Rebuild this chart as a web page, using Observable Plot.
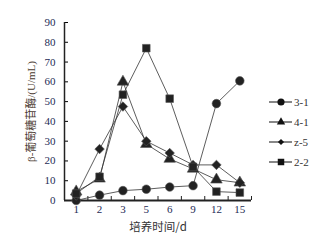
<!DOCTYPE html>
<html><head><meta charset="utf-8">
<script src="https://cdn.jsdelivr.net/npm/d3@7"></script>
<script src="https://cdn.jsdelivr.net/npm/@observablehq/plot@0.6"></script>
<style>
body{margin:0;background:#fff;}
#wrap{position:relative;width:321px;height:242px;}
#legend{position:absolute;left:0;top:0;}
</style></head>
<body><div id="wrap"></div>
<script>
const days = ["1","2","3","5","6","9","12","15"];
const seriesNames = ["3-1","4-1","z-5","2-2"];
const symbols = ["circle","triangle","diamond2","square"];
const s31 = [0, 2.7, 5, 5.7, 6.8, 7.5, 49, 60.5];
const s41 = [4.5, 11, 60, 28.5, 21, 16, 10.5, 9];
const sz5 = [2.5, 26, 47.5, 30, 24, 18, 18, 9];
const s22 = [3.5, 12, 53.5, 77, 51.5, 17, 4.5, 4];
const yTicks = [0,10,20,30,40,50,60,70,80,90];
const xLabel = "培养时间/d";
const yLabel = "β-葡萄糖苷酶/(U/mL)";

const allSeries = [s31, s41, sz5, s22];
const data = [];
allSeries.forEach((vals, si) => vals.forEach((v, i) => data.push({series: seriesNames[si], i, day: days[i], v})));
const bounds = d3.range(days.length + 1).map(k => k - 0.5);

const ink = "#222";
const tickCol = "#1e2b55";
const serif = "'Liberation Serif', 'Times New Roman', serif";

const plot = Plot.plot({
  width: 321, height: 242,
  marginLeft: 64, marginRight: 70, marginTop: 22, marginBottom: 42,
  style: {fontFamily: serif, fontSize: "11px", background: "transparent"},
  x: {type: "linear", domain: [-0.5, days.length - 0.5]},
  y: {domain: [0, 90]},
  symbol: {domain: seriesNames, range: symbols},
  marks: [
    Plot.axisX({ticks: d3.range(days.length), tickFormat: i => days[i], tickSize: 0, tickPadding: 5, fill: tickCol, fontSize: 11, label: null}),
    Plot.axisX({ticks: bounds, tickSize: -4, stroke: ink, strokeWidth: 1, fill: "none", label: null}),
    Plot.axisY({ticks: yTicks, tickSize: -4, tickPadding: 13, fill: tickCol, fontSize: 11, label: null, strokeWidth: 1}),
    Plot.ruleY([0], {stroke: ink, strokeWidth: 2}),
    Plot.ruleX([-0.5], {stroke: ink, strokeWidth: 1.5}),
    Plot.line(data, {x: "i", y: "v", z: "series", stroke: "#333", strokeWidth: 0.8}),
    Plot.dot(data, {x: "i", y: "v", symbol: "series", fill: ink, stroke: "#555", strokeWidth: 0.6, r: 4.3}),
    Plot.text([xLabel], {frameAnchor: "bottom", dy: 30, fontFamily: "'Noto Sans CJK SC', sans-serif", fontSize: 11.5, fill: "#333"}),
    Plot.text([yLabel], {frameAnchor: "left", textAnchor: "middle", dx: -33, rotate: -90, fontFamily: "'Liberation Serif', 'Noto Sans CJK SC', serif", fontSize: 11, fill: "#4a3a30"})
  ]
});
document.getElementById("wrap").appendChild(plot);

// legend overlay
const leg = d3.select("#wrap").append("svg").attr("id","legend").attr("width",321).attr("height",242);
const d3sym = {circle: d3.symbolCircle, triangle: d3.symbolTriangle, diamond2: d3.symbolDiamond2, square: d3.symbolSquare};
const legSize = [40, 30, 24, 42];
seriesNames.forEach((name, k) => {
  const y = 102 + k * 20;
  const g = leg.append("g");
  g.append("line").attr("x1",269).attr("x2",292).attr("y1",y).attr("y2",y).attr("stroke","#111").attr("stroke-width",1);
  const sym = d3.symbol(d3sym[symbols[k]], legSize[k]);
  g.append("path").attr("d", sym()).attr("transform", `translate(281,${y})`).attr("fill","#111");
  g.append("text").attr("x",294).attr("y",y).attr("dy","0.35em").attr("font-family",serif).attr("font-size",11).attr("fill","#333").text(name);
});
</script></body></html>
